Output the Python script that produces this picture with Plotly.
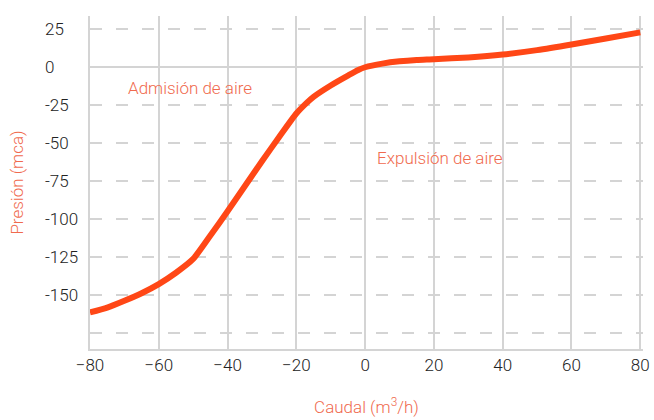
import plotly.graph_objects as go

caudal = [-80, -75, -70, -65, -60, -55, -50, -45, -40, -35, -30, -25, -20, -17, -15, -10, -5, -2, 0, 5, 10, 15, 20, 30, 40, 50, 60, 70, 80]
presion = [-161.7, -158.5, -154, -149, -143, -135.5, -126.4, -111, -95, -78.5, -62, -46, -30.5, -23.5, -19.5, -12, -5.5, -1.8, 0, 2.4, 3.9, 4.8, 5.3, 6.5, 8.4, 11.3, 15, 19, 23]

y_ticks = [25, 0, -25, -50, -75, -100, -125, -150]
x_ticks = [-80, -60, -40, -20, 0, 20, 40, 60, 80]
labels = [("Admisión de aire", -51, -13.4), ("Expulsión de aire", 21.7, -59.7)]

orange = "#ff4716"
text_orange = "#f06a4e"
grid = "#d4d4d4"
tick_color = "#222222"
font_family = "Roboto"

fig = go.Figure()
fig.add_trace(go.Scatter(x=caudal, y=presion, mode="lines",
                         line=dict(color=orange, width=6, shape="spline", smoothing=0.6),
                         hoverinfo="skip", showlegend=False))

for t in y_ticks:
    fig.add_annotation(x=0, xref="paper", y=t, yref="y", text=str(t), showarrow=False,
                       xanchor="left", xshift=-47,
                       font=dict(family=font_family, size=17, color=tick_color, weight=300))

for txt, xv, yv in labels:
    fig.add_annotation(x=xv, y=yv, text=txt, showarrow=False,
                       font=dict(family=font_family, size=17, color=text_orange, weight=300))

fig.update_layout(
    width=654, height=420,
    margin=dict(l=90, r=11, t=16, b=71),
    paper_bgcolor="white", plot_bgcolor="white",
    font=dict(family=font_family, size=17, color=tick_color, weight=300),
    xaxis=dict(range=[-80, 80.8], tickvals=x_ticks, showgrid=True, gridcolor=grid, gridwidth=1.5,
               zeroline=False, showline=True, linecolor=grid, linewidth=2, automargin=False,
               ticks="", tickfont=dict(family=font_family, size=17, color=tick_color, weight=300),
               ticklabelstandoff=0,
               title=dict(text="Caudal (m<sup>3</sup>/h)",
                          font=dict(family=font_family, size=17, color=text_orange, weight=300),
                          standoff=27)),
    yaxis=dict(range=[-185.8, 33.8], tick0=0, dtick=25, showgrid=True, gridcolor=grid, gridwidth=1.5,
               griddash="12px,14px", zeroline=True, zerolinecolor=grid, zerolinewidth=1.5,
               showline=True, linecolor=grid, linewidth=2, showticklabels=False, ticks="",
               automargin=False,
               title=dict(text="Presión (mca)",
                          font=dict(family=font_family, size=17, color=text_orange, weight=300),
                          standoff=60)),
)

fig.write_html("out.html", config={"displayModeBar": False},
               post_script="document.body.style.margin='0';")
